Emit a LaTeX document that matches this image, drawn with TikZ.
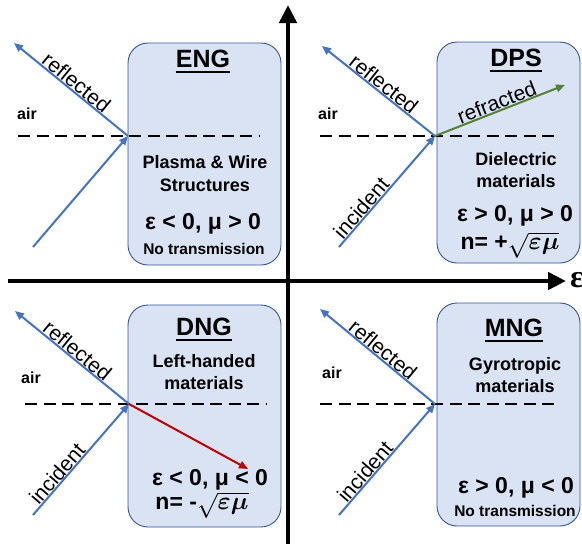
\documentclass[tikz,border=0pt]{standalone}
\usepackage{amsmath}
\usepackage{fontspec}
\setmainfont{Liberation Sans}
\newfontfamily\axisfont{Liberation Serif}
\usetikzlibrary{arrows.meta}

\definecolor{raybl}{HTML}{4472C4}
\definecolor{raygr}{HTML}{548235}
\definecolor{rayrd}{HTML}{C00000}
\definecolor{boxfill}{HTML}{DAE3F3}
\definecolor{boxline}{HTML}{2F5597}

\tikzset{
  mbox/.style={draw=boxline, line width=0.9pt, fill=boxfill, rounded corners=20pt},
  ray/.style={line width=2pt, -{Triangle[length=9pt,width=7.5pt]}},
  axisline/.style={line width=4.5pt, -{Triangle[length=18pt,width=17pt]}},
  iface/.style={line width=2.6pt, dash pattern=on 12pt off 6.5pt},
  ttl/.style={font=\fontsize{25}{28}\bfseries, inner sep=0pt},
  uline/.style={line width=1.8pt},
  lbl/.style={font=\fontsize{18}{21}\bfseries, align=center, inner sep=0pt},
  cond/.style={font=\fontsize{23}{26}\bfseries, inner sep=0pt},
  note/.style={font=\fontsize{15.5}{18}\bfseries, inner sep=0pt},
  airlbl/.style={font=\fontsize{16}{18}\bfseries, inner sep=0pt},
  raytxt/.style={font=\fontsize{21}{24}\selectfont, sloped, above, inner sep=1pt},
}

\begin{document}
\begin{tikzpicture}[x=1pt, y=-1pt]
\useasboundingbox (0,0) rectangle (582,544);

% ---------- material boxes ----------
\draw[mbox] (128,43) rectangle (281,265);
\draw[mbox] (437,42) rectangle (580,263);
\draw[mbox] (128,305) rectangle (281,527);
\draw[mbox] (437,303) rectangle (580,526);

% ---------- axes ----------
\coordinate (yB) at (288,544);
\coordinate (yT) at (288,5);
\coordinate (xL) at (8,281);
\coordinate (xR) at (566,281);
\draw[axisline] (yB) -- (yT);
\draw[axisline] (xL) -- (xR);
\node[anchor=west, inner sep=0pt, font=\axisfont\bfseries\fontsize{32}{34}\selectfont] (epsax) at (570,280) {ε};

% ---------- ENG quadrant ----------
\coordinate (engO) at (128,136);
\coordinate (engR) at (14,43);
\coordinate (engI) at (33,247);
\coordinate (engL) at (18,136);
\coordinate (engE) at (260,136);
\draw[iface] (engL) -- (engE);
\draw[ray, raybl] (engO) -- (engR);
\draw[ray, raybl] (engI) -- (engO);
\path (engR) -- (engO) node[raytxt, midway] (engRt) {reflected};
\node[airlbl] (engAir) at (27,114) {air};
\node[ttl] (engT) at (203,59) {ENG};
\draw[uline] ([yshift=-4pt]engT.base west) -- ([yshift=-4pt]engT.base east);
\node[lbl] (engM) at (205,174) {Plasma \& Wire\\[2pt]Structures};
\node[cond] (engC) at (203,224) {ε < 0, μ > 0};
\node[note] (engN) at (204,249) {No transmission};

% ---------- DPS quadrant ----------
\coordinate (dpsO) at (435,136);
\coordinate (dpsR) at (322,46);
\coordinate (dpsI) at (339,247);
\coordinate (dpsF) at (565,85);
\coordinate (dpsL) at (320,136);
\coordinate (dpsE) at (560,136);
\draw[iface] (dpsL) -- (dpsE);
\draw[ray, raybl] (dpsO) -- (dpsR);
\draw[ray, raybl] (dpsI) -- (dpsO);
\draw[ray, raygr] (dpsO) -- (dpsF);
\path (dpsR) -- (dpsO) node[raytxt, midway] (dpsRt) {reflected};
\path (dpsI) -- (dpsO) node[raytxt, pos=0.3] (dpsIt) {incident};
\path (dpsO) -- (dpsF) node[raytxt, midway] (dpsFt) {refracted};
\node[airlbl] (dpsAir) at (328,114) {air};
\node[ttl] (dpsT) at (516,58) {DPS};
\draw[uline] ([yshift=-4pt]dpsT.base west) -- ([yshift=-4pt]dpsT.base east);
\node[lbl] (dpsM) at (516,170) {Dielectric\\[1pt]materials};
\node[cond] (dpsC) at (515,216) {ε > 0, μ > 0};
\node[cond] (dpsN) at (510,245) {n= +$\sqrt{\boldsymbol{\varepsilon\mu}}$};

% ---------- DNG quadrant ----------
\coordinate (dngO) at (129,404);
\coordinate (dngR) at (15,311);
\coordinate (dngI) at (33,515);
\coordinate (dngT) at (248,469);
\coordinate (dngL) at (25,404);
\coordinate (dngE) at (266,404);
\draw[iface] (dngL) -- (dngE);
\draw[ray, raybl] (dngO) -- (dngR);
\draw[ray, raybl] (dngI) -- (dngO);
\draw[ray, rayrd] (dngO) -- (dngT);
\path (dngR) -- (dngO) node[raytxt, midway] (dngRt) {reflected};
\path (dngI) -- (dngO) node[raytxt, pos=0.32] (dngIt) {incident};
\node[airlbl] (dngAir) at (31,378) {air};
\node[ttl] (dngTi) at (204,327) {DNG};
\draw[uline] ([yshift=-4pt]dngTi.base west) -- ([yshift=-4pt]dngTi.base east);
\node[lbl] (dngM) at (204,372) {Left-handed\\[1pt]materials};
\node[cond] (dngC) at (210,480) {ε < 0, μ < 0};
\node[cond] (dngN) at (202,505) {n= -$\sqrt{\boldsymbol{\varepsilon\mu}}$};

% ---------- MNG quadrant ----------
\coordinate (mngO) at (435,404);
\coordinate (mngR) at (320,309);
\coordinate (mngI) at (339,515);
\coordinate (mngL) at (320,404);
\coordinate (mngE) at (560,404);
\draw[iface] (mngL) -- (mngE);
\draw[ray, raybl] (mngO) -- (mngR);
\draw[ray, raybl] (mngI) -- (mngO);
\path (mngR) -- (mngO) node[raytxt, midway] (mngRt) {reflected};
\path (mngI) -- (mngO) node[raytxt, pos=0.34] (mngIt) {incident};
\node[airlbl] (mngAir) at (332,373) {air};
\node[ttl] (mngT) at (514,328) {MNG};
\draw[uline] ([yshift=-4pt]mngT.base west) -- ([yshift=-4pt]mngT.base east);
\node[lbl] (mngM) at (515,375) {Gyrotropic\\[1pt]materials};
\node[cond] (mngC) at (516,488) {ε > 0, μ < 0};
\node[note] (mngN) at (515,511) {No transmission};
\end{tikzpicture}
\end{document}
